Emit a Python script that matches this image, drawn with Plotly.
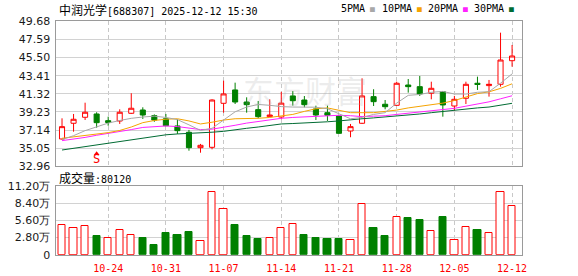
import plotly.graph_objects as go

# ---------------- data ----------------
dates = ["10-20", "10-21", "10-22", "10-23", "10-24",
         "10-27", "10-28", "10-29", "10-30", "10-31",
         "11-03", "11-04", "11-05", "11-06", "11-07",
         "11-10", "11-11", "11-12", "11-13", "11-14",
         "11-17", "11-18", "11-19", "11-20", "11-21",
         "11-24", "11-25", "11-26", "11-27", "11-28",
         "12-01", "12-02", "12-03", "12-04", "12-05",
         "12-08", "12-09", "12-10", "12-11", "12-12"]

open_ = [36.12, 37.93, 38.62, 39.00, 38.23, 38.19, 39.08, 39.46, 38.81, 38.45,
         37.62, 36.89, 35.12, 35.16, 40.23, 41.77, 40.38, 39.50, 38.69, 38.65,
         41.08, 40.61, 39.58, 39.15, 38.77, 37.04, 37.93, 41.00, 40.12, 40.00,
         42.34, 42.15, 41.39, 41.57, 39.92, 40.81, 42.54, 42.27, 42.42, 45.14]
high = [38.50, 39.00, 40.30, 39.20, 38.69, 39.54, 41.39, 39.77, 38.95, 39.00,
        38.39, 37.16, 35.55, 40.69, 42.84, 42.61, 40.92, 40.50, 40.69, 41.55,
        41.65, 41.07, 39.96, 39.96, 38.80, 37.85, 43.11, 41.85, 40.61, 42.72,
        43.03, 43.38, 42.72, 41.60, 41.08, 42.72, 43.30, 42.92, 48.37, 46.95]
low = [36.05, 36.96, 38.31, 37.42, 37.65, 37.85, 39.00, 38.43, 38.10, 37.60,
       36.70, 34.77, 34.54, 34.93, 39.15, 40.15, 39.15, 38.50, 38.65, 38.40,
       39.96, 39.77, 38.31, 38.20, 36.75, 36.32, 37.85, 39.92, 39.54, 39.95,
       41.46, 41.08, 40.69, 38.69, 39.38, 40.15, 41.77, 41.00, 42.15, 44.45]
close = [37.54, 38.39, 39.20, 38.00, 38.02, 39.20, 39.66, 38.88, 38.30, 37.65,
         37.08, 35.12, 35.39, 40.61, 41.31, 40.38, 40.07, 38.69, 38.88, 40.25,
         40.53, 40.07, 38.88, 38.85, 36.77, 37.54, 41.08, 40.42, 39.84, 42.54,
         42.15, 41.31, 41.96, 40.04, 40.69, 42.42, 42.40, 42.42, 45.22, 45.68]

volume_wan = [4.79, 4.30, 4.74, 2.99, 2.66, 4.08, 3.15, 2.66, 1.52, 3.48,
              3.15, 3.64, 2.17, 10.30, 7.50, 4.79, 2.99, 2.50, 2.78, 4.41,
              4.98, 3.19, 2.70, 2.53, 2.53, 2.45, 8.25, 4.33, 3.02, 6.08,
              5.96, 5.64, 3.79, 6.13, 2.45, 4.44, 4.00, 3.51, 10.30, 8.012]

ma5 = [36.05, 36.50, 37.08, 37.54, 37.95, 38.25, 38.50, 38.65, 38.75, 38.60,
       38.35, 37.75, 37.10, 37.35, 38.30, 39.25, 39.80, 40.10, 40.00, 39.85,
       39.80, 39.78, 39.78, 39.60, 39.02, 38.45, 38.60, 38.95, 39.15, 40.25,
       41.15, 41.25, 41.50, 41.60, 41.30, 41.30, 41.50, 41.57, 42.55, 43.62]
ma10 = [36.20, 36.35, 36.50, 36.65, 36.85, 37.10, 37.50, 38.00, 38.25, 38.40,
        38.45, 38.20, 37.85, 38.05, 38.30, 38.45, 38.45, 38.50, 38.60, 38.75,
        38.95, 39.30, 39.60, 39.70, 39.40, 39.15, 39.15, 39.15, 39.30, 39.45,
        39.70, 39.90, 40.05, 40.25, 40.55, 40.95, 41.35, 41.55, 41.95, 42.48]
ma20 = [35.93, 36.10, 36.30, 36.55, 36.75, 36.95, 37.20, 37.45, 37.55, 37.62,
        37.55, 37.35, 37.20, 37.25, 37.45, 37.70, 37.95, 38.15, 38.35, 38.50,
        38.60, 38.68, 38.75, 38.85, 38.85, 38.80, 38.70, 38.75, 38.80, 38.95,
        39.10, 39.25, 39.40, 39.50, 39.65, 39.90, 40.15, 40.40, 40.75, 41.10]
ma30 = [34.85, 35.05, 35.25, 35.45, 35.65, 35.85, 36.05, 36.25, 36.45, 36.60,
        36.70, 36.75, 36.80, 36.90, 37.00, 37.20, 37.35, 37.50, 37.65, 37.85,
        37.90, 37.95, 38.00, 38.10, 38.20, 38.35, 38.45, 38.55, 38.65, 38.72,
        38.85, 39.00, 39.15, 39.30, 39.40, 39.55, 39.70, 39.80, 40.00, 40.23]

price_ticks = [32.96, 35.05, 37.14, 39.23, 41.32, 43.41, 45.50, 47.59, 49.68]
volume_ticks = [0, 2.8, 5.6, 8.4, 11.2]
volume_tick_labels = ["0", "2.80万", "5.60万", "8.40万", "11.20万"]
tick_dates = ["10-24", "10-31", "11-07", "11-14", "11-21", "11-28", "12-05", "12-12"]

signal_dates = ["10-23"]
signal_labels = ["S"]

title_text = "中润光学[688307] 2025-12-12 15:30"
ma_names = ["5PMA", "10PMA", "20PMA", "30PMA"]
volume_title = "成交量:80120"

# ---------------- styles ----------------
RED = "#ff0000"
GREEN = "#008000"
MA_COLORS = ["#a8a8a8", "#f5a300", "#ff22ff", "#006b33"]
GRID = "#d2d2d2"
BORDER = "#9a9a9a"
AXIS_FONT = dict(family="DejaVu Sans", size=11, color="#1a1a1a")

W, H = 578, 276
x_dom = [55.5 / W, 522 / W]
main_dom = [1 - 166.4 / H, 1 - 21.3 / H]
vol_dom = [1 - 254.7 / H, 1 - 186 / H]

x = list(range(len(dates)))
x_range = [-0.565, len(dates) - 1 + 0.86]
tickvals_x = [dates.index(d) for d in tick_dates]

fig = go.Figure()

fig.add_trace(go.Candlestick(
    x=x, open=open_, high=high, low=low, close=close,
    increasing=dict(line=dict(color=RED, width=1), fillcolor="#ffffff"),
    decreasing=dict(line=dict(color=GREEN, width=1), fillcolor=GREEN),
    whiskerwidth=0, showlegend=False, hoverinfo="skip",
    xaxis="x", yaxis="y"))

for series, col in zip([ma30, ma20, ma10, ma5], MA_COLORS[::-1]):
    fig.add_trace(go.Scatter(x=x, y=series, mode="lines",
                             line=dict(color=col, width=1),
                             showlegend=False, hoverinfo="skip",
                             xaxis="x", yaxis="y"))

# signal marker
sig_x = [dates.index(d) for d in signal_dates]
fig.add_trace(go.Scatter(x=sig_x, y=[price_ticks[0] + 1.45] * len(sig_x),
                         mode="markers",
                         marker=dict(symbol="triangle-up", size=5, color=RED),
                         showlegend=False, hoverinfo="skip",
                         xaxis="x", yaxis="y"))
fig.add_trace(go.Scatter(x=sig_x, y=[price_ticks[0] + 0.72] * len(sig_x),
                         mode="text", text=signal_labels,
                         textfont=dict(family="DejaVu Sans Mono", size=12, color=RED),
                         showlegend=False, hoverinfo="skip",
                         xaxis="x", yaxis="y"))

# volume
up = [close[i] >= (close[i - 1] if i > 0 else open_[i]) for i in range(len(close))]
fig.add_trace(go.Bar(
    x=x, y=volume_wan, width=0.63,
    marker=dict(color=["#ffffff" if u else GREEN for u in up],
                line=dict(color=[RED if u else GREEN for u in up], width=1)),
    showlegend=False, hoverinfo="skip", xaxis="x2", yaxis="y2"))

common_x = dict(range=x_range, tickmode="array", tickvals=tickvals_x,
                showgrid=True, gridcolor="#c8c8c8", griddash="4px,3px", gridwidth=1,
                zeroline=False, showline=True, mirror=True, linecolor=BORDER,
                linewidth=1, ticks="", automargin=False, fixedrange=True)

fig.update_layout(
    width=W, height=H, margin=dict(l=0, r=0, t=0, b=0),
    paper_bgcolor="#ffffff", plot_bgcolor="#ffffff",
    showlegend=False, template="none", boxgap=0.37, bargap=0,
    xaxis=dict(domain=x_dom, anchor="y", showticklabels=False,
               rangeslider=dict(visible=False), **common_x),
    xaxis2=dict(domain=x_dom, anchor="y2", showticklabels=True,
                ticktext=tick_dates,
                tickfont=dict(family="DejaVu Sans Mono", size=10, color=RED),
                ticklabelstandoff=4, **common_x),
    yaxis=dict(domain=main_dom, anchor="x", range=[price_ticks[0], price_ticks[-1]],
               tickmode="array", tickvals=price_ticks,
               ticktext=[f"{v:.2f}" for v in price_ticks],
               tickfont=AXIS_FONT, showgrid=True, gridcolor=GRID, gridwidth=1,
               zeroline=False, showline=True, mirror=True, linecolor=BORDER,
               linewidth=1, ticks="", ticklabelstandoff=2, automargin=False),
    yaxis2=dict(domain=vol_dom, anchor="x2", range=[0, volume_ticks[-1]],
                tickmode="array", tickvals=volume_ticks, ticktext=volume_tick_labels,
                tickfont=AXIS_FONT, showgrid=True, gridcolor=GRID, gridwidth=1,
                zeroline=False, showline=True, mirror=True, linecolor=BORDER,
                linewidth=1, ticks="", ticklabelstandoff=2, automargin=False),
)

CJK = "Noto Sans CJK SC"
MONO = "DejaVu Sans Mono"


def mixed(text):
    out = []
    for ch in text:
        if ord(ch) > 0x2E80:
            out.append(f"<span style='font-family:\"{CJK}\";font-size:12px'>{ch}</span>")
        else:
            out.append(ch)
    return "".join(out)


annotations = [
    dict(text=mixed(title_text), x=57 / W, y=1 - 9 / H, xref="paper", yref="paper",
         xanchor="left", yanchor="middle", showarrow=False,
         font=dict(family=MONO, size=10, color="#000000")),
    dict(text=mixed(volume_title), x=57 / W, y=1 - 177.5 / H, xref="paper", yref="paper",
         xanchor="left", yanchor="middle", showarrow=False,
         font=dict(family=MONO, size=10, color="#000000")),
    dict(text="东方财富", x=305 / W, y=1 - 89 / H, xref="paper", yref="paper",
         xanchor="center", yanchor="middle", showarrow=False,
         font=dict(family=CJK, size=31, color="rgba(170,170,170,0.22)")),
]
legend_x = [339, 380, 426, 472]
for name, col, lx in zip(ma_names, MA_COLORS, legend_x):
    annotations.append(dict(
        text=f"{name}<span style='font-size:8px;color:{col}'> ■</span>",
        x=lx / W, y=1 - 8.5 / H, xref="paper", yref="paper",
        xanchor="left", yanchor="middle", showarrow=False,
        font=dict(family=MONO, size=10, color="#000000")))
fig.update_layout(annotations=annotations)

fig.write_html("out.html")
